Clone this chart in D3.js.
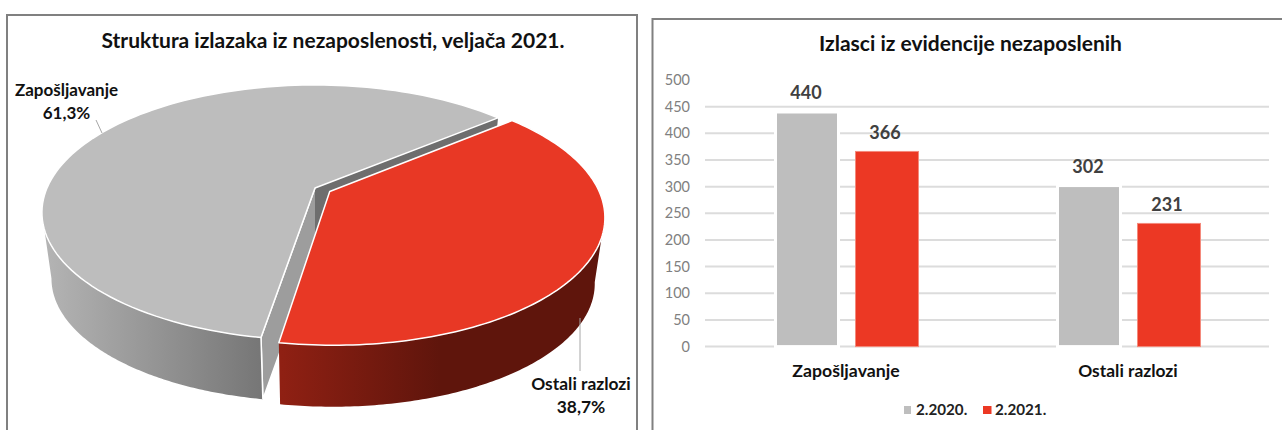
<!DOCTYPE html>
<html><head><meta charset="utf-8">
<script src="https://cdn.jsdelivr.net/npm/d3@7/dist/d3.min.js"></script>
<style>html,body{margin:0;padding:0;background:#fff;overflow:hidden}svg{display:block}text{font-family:Lato,sans-serif}</style>
</head><body><svg id="c" width="1282" height="430"></svg>
<script>
const pieTitle = "Struktura izlazaka iz nezaposlenosti, veljača 2021.";
const pieNames = ["Zapošljavanje", "Ostali razlozi"];
const pieShares = [61.3, 38.7];
const pieShareLabels = ["61,3%", "38,7%"];
const barTitle = "Izlasci iz evidencije nezaposlenih";
const categories = ["Zapošljavanje", "Ostali razlozi"];
const seriesNames = ["2.2020.", "2.2021."];
const values2020 = [440, 302];
const values2021 = [366, 231];
const yTicks = [0, 50, 100, 150, 200, 250, 300, 350, 400, 450, 500];

const GRAY = "#bdbdbd", RED = "#e83825", BARRED = "#ec3824";
const svg = d3.select("#c");
const defs = svg.append("defs");
function grad(id, x1, x2, stops) {
  const g = defs.append("linearGradient").attr("id", id).attr("gradientUnits", "userSpaceOnUse")
    .attr("x1", x1).attr("x2", x2).attr("y1", 0).attr("y2", 0);
  stops.forEach(s => g.append("stop").attr("offset", s[0]).attr("stop-color", s[1]));
}
grad("gs", 45, 262, [[0, "#b4b4b4"], [1, "#767676"]]);
grad("rs", 281, 600, [[0, "#8f2013"], [0.5, "#5f150c"], [1, "#5f150c"]]);

// panels
svg.append("path").attr("d", "M7,430V15H637V430").attr("fill", "none").attr("stroke", "#808080").attr("stroke-width", 2);
svg.append("path").attr("d", "M652.5,430V19H1282").attr("fill", "none").attr("stroke", "#808080").attr("stroke-width", 2);

// --- perspective pie ---
const k = 0.192, Rx = 268, Ry = 122.8, apexX = 315, apexTop = 188, apexBot = 255, shrink = 0.965, explode = 0.056;
function proj(a, r, plane, off) {
  const u = r * Math.sin(a) + off[0], v = -r * Math.cos(a) + off[1], w = 1 - k * v;
  const f = plane ? shrink : 1;
  return [apexX + f * Rx * u / w, (plane ? apexBot : apexTop) + f * Ry * v / w];
}
const rad = d => d * Math.PI / 180;
const start = rad(189.4);
const pieData = d3.pie().sort(null).startAngle(start).endAngle(start + 2 * Math.PI)(pieShares);
const arcPts = (a0, a1, plane, off) => d3.range(0, 121).map(i => proj(a0 + (a1 - a0) * i / 120, 1, plane, off));
const line = d3.line();
const none = [0, 0];
const silL = 2 * Math.PI - Math.acos(-k), silR = Math.acos(-k) + 2 * Math.PI;
const pg = svg.append("g");
const gr = pieData[0], rd = pieData[1];
const redMid = (rd.startAngle + rd.endAngle) / 2;
const redOff = [explode * Math.sin(redMid) + 0.006, -explode * Math.cos(redMid)];

// back cut face of the gray slice
pg.append("path").attr("fill", "#6e6e6e")
  .attr("d", line([proj(0, 0, 0, none), proj(gr.endAngle, 1, 0, none), proj(gr.endAngle, 1, 1, none), proj(0, 0, 1, none)]) + "Z");
// front cut face of the gray slice
pg.append("path").attr("fill", "#9d9d9d").attr("stroke", "#fff").attr("stroke-width", 1.5)
  .attr("d", line([proj(0, 0, 0, none), proj(gr.startAngle, 1, 0, none), proj(gr.startAngle, 1, 1, none), proj(0, 0, 1, none)]));
// gray outer side
pg.append("path").attr("fill", "url(#gs)")
  .attr("d", line(arcPts(gr.startAngle, silL, 0, none).concat(arcPts(silL, gr.startAngle, 1, none))) + "Z");
pg.append("path").attr("stroke", "#fff").attr("stroke-width", 1.5).attr("fill", "none")
  .attr("d", line([proj(gr.startAngle, 1, 0, none), proj(gr.startAngle, 1, 1, none)]));
// gray top
pg.append("path").attr("fill", GRAY).attr("stroke", "#fff").attr("stroke-width", 1.5).attr("stroke-linejoin", "round")
  .attr("d", line([proj(0, 0, 0, none)].concat(arcPts(gr.startAngle, gr.endAngle, 0, none))) + "Z");
// red outer side
pg.append("path").attr("fill", "url(#rs)")
  .attr("d", line(arcPts(silR, rd.endAngle, 0, redOff).concat(arcPts(rd.endAngle, silR, 1, redOff))) + "Z");
// red top
pg.append("path").attr("fill", RED).attr("stroke", "#fff").attr("stroke-width", 1.5).attr("stroke-linejoin", "round")
  .attr("d", line([proj(0, 0, 0, redOff)].concat(arcPts(rd.startAngle, rd.endAngle, 0, redOff))) + "Z");

// leaders
const lead = "#a6a6a6";
pg.append("path").attr("fill", "none").attr("stroke", lead).attr("d", "M96,120L102,133");
pg.append("path").attr("fill", "none").attr("stroke", lead).attr("d", "M580,318V371");

function txt(x, y, s, size, weight, fill, anchor) {
  return svg.append("text").attr("x", x).attr("y", y).attr("dy", "0.35em").text(s)
    .attr("font-size", size).attr("font-weight", weight).attr("fill", fill).attr("text-anchor", anchor || "middle");
}
txt(333, 41, pieTitle, 21, 700, "#111");
txt(970.5, 44, barTitle, 21, 700, "#111");
txt(66.5, 90, pieNames[0], 17, 700, "#111");
txt(66.5, 113, pieShareLabels[0], 17, 700, "#111");
txt(581, 384, pieNames[1], 17.4, 700, "#111");
txt(581, 407, pieShareLabels[1], 17.4, 700, "#111");

// --- bars ---
const y = d3.scaleLinear().domain([0, 500]).range([346.6, 80]);
const x0 = d3.scaleBand().domain(categories).range([706, 1270]).paddingInner(0.493).paddingOuter(0.2465);
const x1 = d3.scaleBand().domain(seriesNames).range([0, x0.bandwidth()]).paddingInner(0.2125).paddingOuter(0);
const axis = d3.axisLeft(y).tickValues(yTicks).tickSize(0).tickPadding(0);
const ag = svg.append("g").attr("transform", "translate(690,0)").call(axis);
ag.select(".domain").remove();
ag.selectAll("text").attr("font-size", 14.5).attr("fill", "#808080").style("font-family", "Lato,sans-serif");
svg.append("g").selectAll("line").data(yTicks.filter(t => t < 500)).join("line")
  .attr("x1", 705).attr("x2", 1269).attr("y1", d => y(d)).attr("y2", d => y(d))
  .attr("stroke", "#dcdcdc").attr("stroke-width", 2);

const barRows = categories.flatMap((c, i) => [
  {c, s: seriesNames[0], v: values2020[i]},
  {c, s: seriesNames[1], v: values2021[i]}
]);
const isOld = d => d.s === seriesNames[0];
svg.append("g").selectAll("rect").data(barRows).join("rect")
  .attr("x", d => x0(d.c) + x1(d.s)).attr("width", x1.bandwidth())
  .attr("y", d => y(d.v)).attr("height", d => y(0) - y(d.v))
  .attr("fill", d => isOld(d) ? "#bebebe" : BARRED)
  .attr("stroke", d => isOld(d) ? "#fff" : "#f48a7c")
  .attr("stroke-width", d => isOld(d) ? 3 : 1);
svg.append("g").selectAll("text").data(barRows).join("text")
  .attr("x", d => x0(d.c) + x1(d.s) + x1.bandwidth() / 2 - (isOld(d) ? 1 : 2))
  .attr("y", d => y(d.v) - 19).attr("dy", "0.35em").attr("text-anchor", "middle")
  .attr("font-size", 18).attr("font-weight", 700).attr("fill", "#404040").text(d => d.v);
categories.forEach((c, i) => txt(x0(c) + x0.bandwidth() / 2 - 1, 371, c, i ? 17.4 : 17.7, 700, "#111"));

// legend
const legendX = [904, 983], legendColors = ["#bebebe", BARRED];
seriesNames.forEach((s, i) => {
  svg.append("rect").attr("x", legendX[i]).attr("y", 406).attr("width", i ? 8.5 : 7).attr("height", 8).attr("fill", legendColors[i]);
  txt(legendX[i] + 12, 409.5, s, 15.2, 700, "#222", "start");
});
</script></body></html>
